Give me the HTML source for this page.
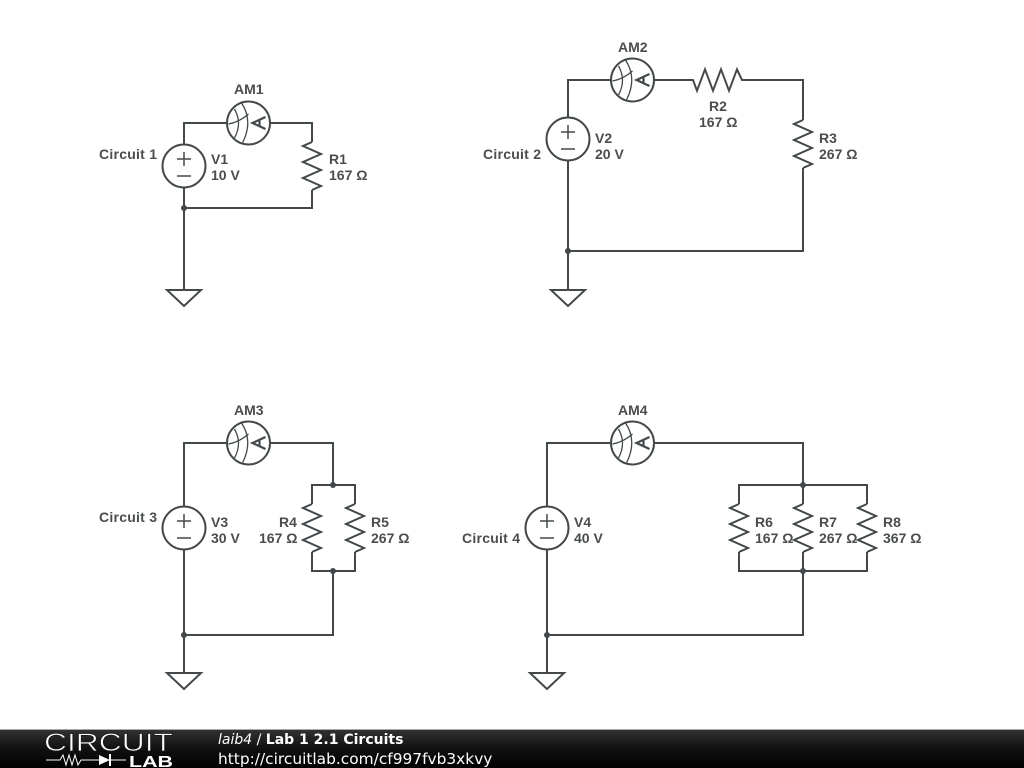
<!DOCTYPE html>
<html><head><meta charset="utf-8"><style>
html,body{margin:0;padding:0;background:#fff;width:1024px;height:768px;overflow:hidden}
svg{display:block}
.w{fill:none;stroke:#43484a;stroke-width:2}
.t{font:bold 14px "Liberation Sans",sans-serif;fill:#4a4d4f}
.f{font:14px "DejaVu Sans",sans-serif;fill:#fff}
</style></head><body>
<svg width="1024" height="768" viewBox="0 0 1024 768" xmlns="http://www.w3.org/2000/svg">
<defs>
<linearGradient id="g" x1="0" y1="0" x2="0" y2="1"><stop offset="0" stop-color="#333"/><stop offset=".5" stop-color="#111"/><stop offset="1" stop-color="#000"/></linearGradient>
<g id="am" class="w"><circle r="21.5" fill="#fff"/><path stroke-width="1.3" d="M-7-20Q5-2-6 20M-14-14Q-6 0-14 15M-20 1Q-9-1 0-9"/><path stroke-width="2.2" d="M17-6 4 0 17 6M11-3V3"/></g>
<g id="v" class="w"><circle r="21.5" fill="#fff"/><path stroke-width="1.5" d="M-7-7H7M0-14V0M-7 10H7"/></g>
<path id="rv" class="w" d="M0-24-9-20 9-12-9-4 9 4-9 12 9 20 0 24"/>
<path id="gnd" class="w" d="M-17 0H17L0 16Z"/>
<circle id="d" r="3" fill="#43484a"/>
</defs>
<path class="w" d="M184 144V123H227M270 123H312V142M312 190V208H184M184 188V290"/>
<use href="#am" x="248.500" y="123"/><use href="#v" x="184" y="166"/><use href="#rv" x="312" y="166"/><use href="#gnd" x="184" y="290"/><use href="#d" x="184" y="208"/>
<path class="w" d="M568 117V80H611M654 80H693L697 90.700 705 69.300 713 90.700 721 69.300 729 90.700 737 69.300 742 80H803V120M803 168V251H568M568 161V290"/>
<use href="#am" x="632.500" y="80"/><use href="#v" x="568" y="139"/><use href="#rv" x="803" y="144"/><use href="#gnd" x="568" y="290"/><use href="#d" x="568" y="251"/>
<path class="w" d="M184 506V443H227M270 443H333V485M312 504V485H355V504M312 552V571H355V552M333 571V635H184M184 550V673"/>
<use href="#am" x="248.500" y="443"/><use href="#v" x="184" y="528"/><use href="#rv" x="312" y="528"/><use href="#rv" x="355" y="528"/><use href="#gnd" x="184" y="673"/><use href="#d" x="333" y="485"/><use href="#d" x="333" y="571"/><use href="#d" x="184" y="635"/>
<path class="w" d="M547 506V443H611M654 443H803V504M739 504V485H867V504M739 552V571H867V552M803 552V635H547M547 550V673"/>
<use href="#am" x="632.500" y="443"/><use href="#v" x="547" y="528"/><use href="#rv" x="739" y="528"/><use href="#rv" x="803" y="528"/><use href="#rv" x="867" y="528"/><use href="#gnd" x="547" y="673"/><use href="#d" x="803" y="485"/><use href="#d" x="803" y="571"/><use href="#d" x="547" y="635"/>
<g class="t">
<text x="99" y="159" textLength="58">Circuit 1</text><text x="234" y="94">AM1</text><text x="211" y="164">V1</text><text x="211" y="180">10 V</text><text x="329" y="164">R1</text><text x="329" y="180">167 Ω</text>
<text x="483" y="159" textLength="58">Circuit 2</text><text x="618" y="52">AM2</text><text x="595" y="143">V2</text><text x="595" y="159">20 V</text><text x="709" y="111">R2</text><text x="699" y="127">167 Ω</text><text x="819" y="143">R3</text><text x="819" y="159">267 Ω</text>
<text x="99" y="522" textLength="58">Circuit 3</text><text x="234" y="415">AM3</text><text x="211" y="527">V3</text><text x="211" y="543">30 V</text><text x="279" y="527">R4</text><text x="259" y="543">167 Ω</text><text x="371" y="527">R5</text><text x="371" y="543">267 Ω</text>
<text x="462" y="543" textLength="58">Circuit 4</text><text x="618" y="415">AM4</text><text x="574" y="527">V4</text><text x="574" y="543">40 V</text><text x="755" y="527">R6</text><text x="755" y="543">167 Ω</text><text x="819" y="527">R7</text><text x="819" y="543">267 Ω</text><text x="883" y="527">R8</text><text x="883" y="543">367 Ω</text>
</g>
<rect y="729" width="1024" height="39" fill="url(#g)"/>
<rect y="729" width="1024" height="1" fill="#aaa"/>
<text x="44" y="751" textLength="129" lengthAdjust="spacingAndGlyphs" style="font:25px 'Liberation Sans',sans-serif;fill:#fff;stroke:#1a1a1a;stroke-width:.7">CIRCUIT</text>
<path d="M46 760H60L63 755 66 765 69 755 72 765 75 755 78 765 81 760H99M111 760H126" fill="none" stroke="#fff" stroke-width="1"/>
<path d="M99 755V765L110 760Z" fill="#fff"/><rect x="109" y="754" width="2" height="12" fill="#fff"/>
<text x="129" y="767" textLength="44" lengthAdjust="spacingAndGlyphs" style="font:bold 16px 'Liberation Sans',sans-serif;fill:#fff">LAB</text>
<text class="f" x="218" y="744"><tspan font-style="italic">laib4</tspan> / <tspan font-weight="bold">Lab 1 2.1 Circuits</tspan></text>
<text class="f" x="218" y="764" style="font-size:15.400px">http://circuitlab.com/cf997fvb3xkvy</text>
</svg>
</body></html>
